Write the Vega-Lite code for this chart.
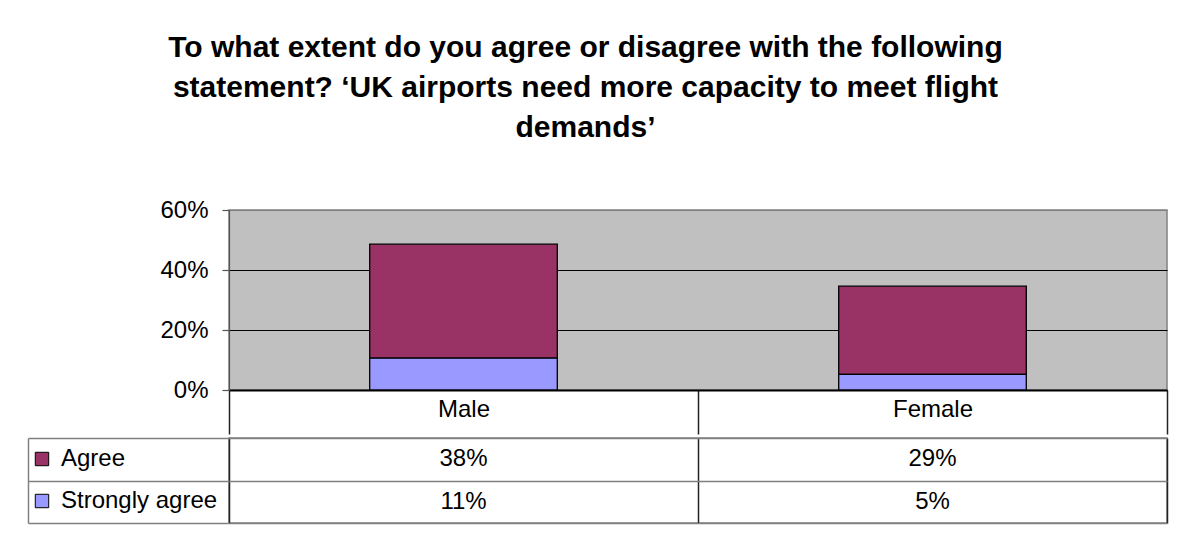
{
  "$schema": "https://vega.github.io/schema/vega-lite/v6.json",
  "background": "white",
  "padding": {"left": 26, "top": 33, "right": 12, "bottom": 10},
  "title": {
    "text": ["To what extent do you agree or disagree with the following", "statement? ‘UK airports need more capacity to meet flight", "demands’"],
    "fontSize": 30,
    "fontWeight": "bold",
    "lineHeight": 40,
    "anchor": "middle",
    "color": "black",
    "dx": -12,
    "offset": 54
  },
  "data": {
    "values": [
      {"Category": "Male", "Series": "Agree", "value": 0.38},
      {"Category": "Male", "Series": "Strongly agree", "value": 0.106},
      {"Category": "Female", "Series": "Agree", "value": 0.294},
      {"Category": "Female", "Series": "Strongly agree", "value": 0.052}
    ]
  },
  "spacing": 0,
  "resolve": {"scale": {"x": "independent", "y": "independent", "color": "shared"}, "legend": {"color": "shared"}},
  "vconcat": [
    {
      "width": 938,
      "height": 180,
      "view": {"fill": "#C0C0C0", "stroke": "#808080", "strokeWidth": 1.5},
      "mark": {"type": "bar", "stroke": "black", "strokeWidth": 1.3, "width": {"band": 0.4}},
      "encoding": {
        "x": {
          "field": "Category", "type": "nominal", "sort": ["Male", "Female"],
          "scale": {"paddingInner": 0, "paddingOuter": 0},
          "axis": {"title": null, "labelAngle": 0, "tickBand": "extent", "tickSize": 44, "tickColor": "#222222", "tickWidth": 1.5,
                   "domainColor": "black", "domainWidth": 2, "labelFontSize": 24, "labelPadding": -37, "labelColor": "black", "grid": false}
        },
        "y": {
          "field": "value", "type": "quantitative", "stack": "zero",
          "scale": {"domain": [0, 0.6], "nice": false},
          "axis": {"title": null, "format": ".0%", "values": [0, 0.2, 0.4, 0.6], "grid": true,
                   "gridColor": {"condition": {"test": "datum.value >= 0.59", "value": "#808080"}, "value": "black"},
                   "gridWidth": 1.2, "tickSize": 7, "tickColor": "#555555", "tickWidth": 1.2, "domainColor": "#555555", "domainWidth": 1.2,
                   "labelFontSize": 24, "labelPadding": 14, "labelColor": "black"}
        },
        "color": {
          "field": "Series", "type": "nominal",
          "scale": {"domain": ["Agree", "Strongly agree"], "range": ["#993366", "#9999FF"]},
          "legend": {"title": null, "orient": "none", "legendX": -199, "legendY": 237, "symbolType": "square", "symbolSize": 180,
                     "symbolStrokeColor": "black", "symbolStrokeWidth": 1, "symbolOpacity": 1, "labelFontSize": 24, "labelColor": "black",
                     "labelOffset": 7, "rowPadding": 18, "padding": 0}
        },
        "order": {"field": "Series", "sort": "descending"}
      }
    },
    {
      "width": 938,
      "height": 85,
      "view": {"fill": "white", "stroke": "#808080", "strokeWidth": 1.5},
      "mark": {"type": "text", "fontSize": 24, "color": "black"},
      "encoding": {
        "x": {
          "field": "Category", "type": "nominal", "sort": ["Male", "Female"],
          "scale": {"paddingInner": 0, "paddingOuter": 0},
          "axis": {"title": null, "labels": false, "ticks": false, "domain": false, "grid": true, "tickBand": "extent", "gridColor": "#222222", "gridWidth": 1.5}
        },
        "y": {
          "field": "Series", "type": "nominal", "sort": ["Agree", "Strongly agree"],
          "scale": {"paddingInner": 0, "paddingOuter": 0},
          "axis": {"title": null, "labels": false, "offset": 201, "tickSize": -201, "tickBand": "extent", "tickColor": "#808080", "tickWidth": 1.5,
                   "domainColor": "#808080", "domainWidth": 1.5, "grid": true, "gridColor": "#808080", "gridWidth": 1.5}
        },
        "text": {"field": "value", "type": "quantitative", "format": ".0%"}
      }
    }
  ],
  "config": {
    "font": "Liberation Sans",
    "axis": {"labelFont": "Liberation Sans"},
    "legend": {"labelFont": "Liberation Sans"},
    "title": {"font": "Liberation Sans"}
  }
}
